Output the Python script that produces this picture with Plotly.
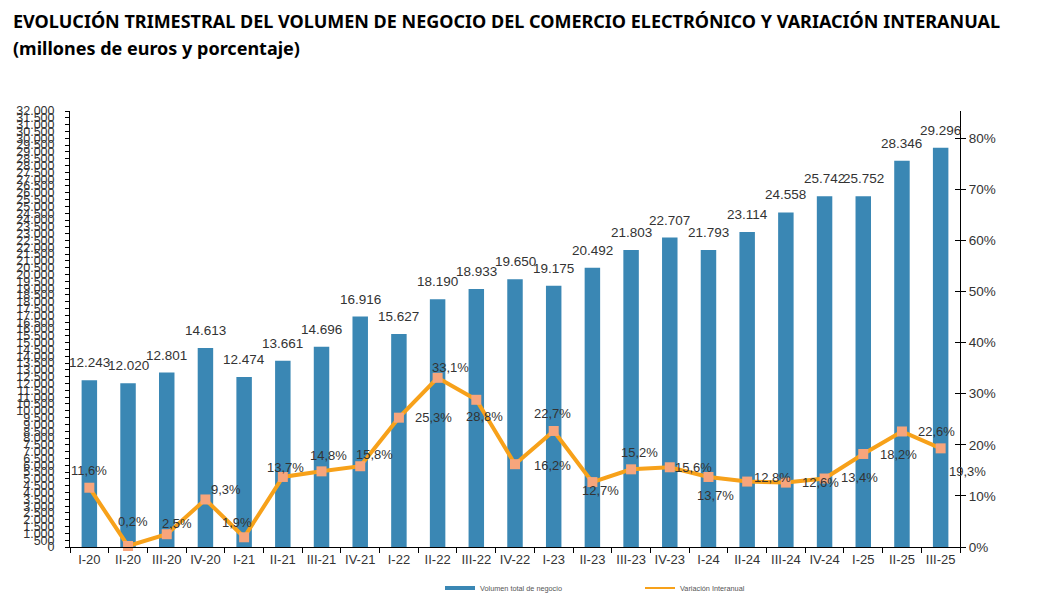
import plotly.graph_objects as go

# ---- data ----
quarters = ["I-20", "II-20", "III-20", "IV-20", "I-21", "II-21", "III-21", "IV-21",
            "I-22", "II-22", "III-22", "IV-22", "I-23", "II-23", "III-23", "IV-23",
            "I-24", "II-24", "III-24", "IV-24", "I-25", "II-25", "III-25"]
volume = [12243, 12020, 12801, 14613, 12474, 13661, 14696, 16916,
          15627, 18190, 18933, 19650, 19175, 20492, 21803, 22707,
          21793, 23114, 24558, 25742, 25752, 28346, 29296]
variation = [11.6, 0.2, 2.5, 9.3, 1.9, 13.7, 14.8, 15.8,
             25.3, 33.1, 28.8, 16.2, 22.7, 12.7, 15.2, 15.6,
             13.7, 12.8, 12.6, 13.4, 18.2, 22.6, 19.3]
left_ticks = list(range(0, 32001, 500))
right_ticks = list(range(0, 81, 10))

# ---- styles ----
BAR = "#3a87b4"
LINE = "#f7a11a"
MARK = "#f7a57c"
TXT = "#333333"
FONT = "Liberation Sans, Arial, sans-serif"
# pixel offsets (xshift, yshift) for the percentage labels
pct_shift = [(0, 17), (5, 24), (10, 11), (21, 10), (-7, 15), (3, 9), (7, 16), (14, 12),
             (35, 0), (13, 10), (8, -17), (37, -1), (-1, 17), (8, -8), (8, 17), (24, 0),
             (7, -19), (25, 4), (35, 0), (35, 1), (35, -1), (35, 0), (27, -23)]

def fmt_thousands(v):
    return f"{v:,}".replace(",", ".")

def fmt_pct(v):
    return f"{v:.1f}".replace(".", ",") + "%"

fig = go.Figure()
fig.add_trace(go.Bar(
    x=quarters, y=volume, width=0.4, marker=dict(color=BAR, line=dict(width=0)),
    showlegend=False, hoverinfo="skip"))
fig.add_trace(go.Scatter(
    x=quarters, y=variation, yaxis="y2", mode="lines+markers",
    line=dict(color=LINE, width=4),
    marker=dict(symbol="square", size=10, color=MARK, line=dict(width=0)),
    showlegend=False, cliponaxis=False, hoverinfo="skip"))
# legend-only entries
fig.add_trace(go.Scatter(x=[None], y=[None], mode="lines", name="Volumen total de negocio",
                         line=dict(color=BAR, width=4)))
fig.add_trace(go.Scatter(x=[None], y=[None], mode="lines", name="Variación Interanual",
                         yaxis="y2", line=dict(color=LINE, width=2)))
# cross ticks on the right axis (inside half)
fig.add_trace(go.Scatter(x=[None], y=[None], yaxis="y3", showlegend=False))

annotations = []
# bar value labels
for q, v in zip(quarters, volume):
    annotations.append(dict(x=q, y=v, xref="x", yref="y", text=fmt_thousands(v),
                            showarrow=False, yanchor="bottom", yshift=8,
                            font=dict(family=FONT, size=13.5, color=TXT)))
# percentage labels
for q, v, (dx, dy) in zip(quarters, variation, pct_shift):
    annotations.append(dict(x=q, y=v, xref="x", yref="y2", text=fmt_pct(v),
                            showarrow=False, xshift=dx, yshift=dy,
                            font=dict(family=FONT, size=13, color=TXT)))

PLOT_TOP, PLOT_BOTTOM = 111, 547
def py(p):
    return (PLOT_BOTTOM - p) / (PLOT_BOTTOM - PLOT_TOP)

annotations.append(dict(xref="paper", yref="paper", x=(11 - 70) / 890, y=py(21),
                        xanchor="left", yanchor="middle", showarrow=False,
                        text="<b>EVOLUCIÓN TRIMESTRAL DEL VOLUMEN DE NEGOCIO DEL COMERCIO ELECTRÓNICO Y VARIACIÓN INTERANUAL</b>",
                        font=dict(family="Noto Sans", size=18, color="#000000")))
annotations.append(dict(xref="paper", yref="paper", x=(11 - 70) / 890, y=py(48),
                        xanchor="left", yanchor="middle", showarrow=False,
                        text="<b>(millones de euros y porcentaje)</b>",
                        font=dict(family="Noto Sans", size=18, color="#000000")))

fig.update_layout(
    width=1038, height=606,
    margin=dict(l=70, r=78, t=111, b=59, pad=0, autoexpand=False),
    paper_bgcolor="white", plot_bgcolor="white",
    separators=",.",
    font=dict(family=FONT, color=TXT),
    xaxis=dict(type="category", showline=True, linecolor="#000000", linewidth=1,
               ticks="outside", tickson="boundaries", ticklen=5, tickcolor="#000000",
               tickangle=0, automargin=False,
               tickfont=dict(size=13, color=TXT), showgrid=False, zeroline=False,
               range=[-0.5, len(quarters) - 0.5]),
    yaxis=dict(range=[0, 32000], tickvals=left_ticks,
               ticktext=[fmt_thousands(t) for t in left_ticks],
               showline=True, linecolor="#000000", linewidth=1, automargin=False,
               ticks="outside", ticklen=4, tickcolor="#000000", ticklabelstandoff=8,
               tickfont=dict(size=12.5, color=TXT), showgrid=False, zeroline=False),
    yaxis2=dict(range=[0, 85.3], tickvals=right_ticks,
                ticktext=[f"{t}%" for t in right_ticks], automargin=False,
                overlaying="y", side="right", showline=True, linecolor="#000000",
                linewidth=1, ticks="outside", ticklen=5, tickcolor="#000000",
                tickfont=dict(size=13.5, color=TXT), showgrid=False, zeroline=False),
    yaxis3=dict(range=[0, 85.3], tickvals=right_ticks, overlaying="y", side="right",
                ticks="inside", ticklen=5, tickcolor="#000000", showticklabels=False,
                showgrid=False, zeroline=False, showline=False, automargin=False),
    legend=dict(orientation="h", x=(440 - 70) / 890, y=py(588), xanchor="left",
                yanchor="middle", font=dict(size=7.3, color="#555555"),
                entrywidth=155, entrywidthmode="pixels", bgcolor="rgba(0,0,0,0)"),
    annotations=annotations,
    bargap=0.6,
)

fig.write_html("out.html")
